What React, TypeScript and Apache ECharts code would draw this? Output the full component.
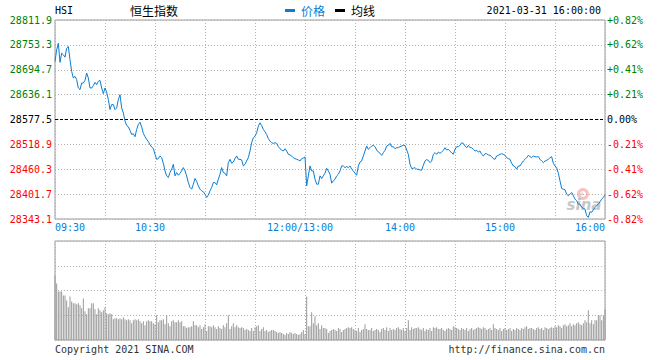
import React, { useEffect, useRef } from "react";
import * as echarts from "echarts";

const priceTicks = ["28343.1", "28401.7", "28460.3", "28518.9", "28577.5", "28636.1", "28694.7", "28753.3", "28811.9"];
const pctTicks = ["-0.82%", "-0.62%", "-0.41%", "-0.21%", "0.00%", "+0.21%", "+0.41%", "+0.62%", "+0.82%"];
const timeTickMinutes = [0, 60, 150, 210, 270, 330];
const timeTickLabels = ["09:30", "10:30", "12:00/13:00", "14:00", "15:00", "16:00"];
const prevClose = 28577.5;
const priceMin = 28343.1;
const priceMax = 28811.9;

// one value per minute: 0 = 09:30 ... 150 = 12:00 | 13:00 ... 330 = 16:00
const priceValues = [
  28714.2, 28741.6, 28757.2, 28711.9, 28733.8, 28729.9, 28724.4, 28745.5, 28749.4, 28718.1,
  28690.8, 28675.2, 28679.1, 28671.3, 28651.7, 28647.8, 28663.4, 28663.4, 28669.7, 28686.9,
  28675.2, 28651.7, 28651.7, 28657.2, 28665.0, 28659.5, 28667.4, 28669.7, 28651.7, 28638.4,
  28651.7, 28641.6, 28624.4, 28600.9, 28612.7, 28612.7, 28600.9, 28604.8, 28624.4, 28636.1,
  28604.8, 28593.1, 28573.6, 28563.4, 28560.3, 28551.7, 28542.3, 28543.9, 28536.9, 28554.1,
  28565.8, 28571.2, 28560.3, 28544.7, 28536.9, 28530.6, 28525.2, 28518.1, 28512.6, 28509.5,
  28495.5, 28483.7, 28485.3, 28491.6, 28487.7, 28474.4, 28456.4, 28444.7, 28440.8, 28452.5,
  28460.3, 28472.0, 28444.7, 28452.5, 28446.2, 28450.9, 28456.4, 28464.2, 28456.4, 28444.7,
  28429.0, 28417.3, 28413.4, 28425.1, 28438.4, 28431.4, 28421.2, 28413.4, 28409.5, 28407.2,
  28401.7, 28393.9, 28399.4, 28409.5, 28417.3, 28429.0, 28429.0, 28423.6, 28436.9, 28448.6,
  28464.2, 28452.5, 28450.9, 28444.7, 28475.9, 28483.7, 28474.4, 28477.5, 28485.3, 28491.6,
  28483.7, 28483.7, 28482.2, 28468.1, 28472.0, 28479.8, 28487.6, 28503.3, 28522.8, 28534.5,
  28538.4, 28546.2, 28561.9, 28569.7, 28563.4, 28554.1, 28548.6, 28542.3, 28532.2, 28526.7,
  28522.8, 28521.2, 28522.8, 28521.2, 28513.4, 28508.7, 28505.6, 28503.3, 28508.7, 28503.3,
  28495.5, 28493.9, 28491.6, 28487.6, 28485.3, 28483.7, 28482.2, 28479.8, 28485.3, 28486.9,
  28489.2, 28421.2, 28444.7, 28468.1, 28456.4, 28456.4, 28436.9, 28425.1, 28425.1, 28444.7,
  28438.4, 28444.7, 28450.9, 28462.6, 28456.4, 28448.6, 28427.5, 28433.0, 28436.9, 28444.7,
  28448.6, 28456.4, 28468.1, 28468.1, 28464.2, 28466.6, 28464.2, 28468.1, 28460.3, 28456.4,
  28450.9, 28446.2, 28468.1, 28477.5, 28479.8, 28491.6, 28503.3, 28515.0, 28507.2, 28511.1,
  28515.0, 28516.6, 28513.4, 28505.6, 28500.9, 28497.8, 28493.1, 28499.4, 28504.8, 28515.0,
  28516.6, 28521.2, 28513.4, 28513.4, 28508.7, 28511.1, 28511.1, 28513.4, 28515.0, 28516.6,
  28516.6, 28505.6, 28495.5, 28472.0, 28461.9, 28462.6, 28464.2, 28460.3, 28460.3, 28458.7,
  28458.0, 28469.7, 28479.8, 28483.0, 28481.4, 28475.9, 28479.8, 28495.5, 28499.4, 28495.5,
  28500.9, 28497.8, 28500.9, 28504.8, 28511.1, 28505.6, 28507.2, 28502.5, 28499.4, 28495.5,
  28507.2, 28513.4, 28513.4, 28516.6, 28522.8, 28521.2, 28515.0, 28511.1, 28516.6, 28511.1,
  28511.1, 28507.2, 28503.3, 28504.8, 28500.9, 28503.3, 28495.5, 28491.6, 28497.0, 28497.0,
  28493.9, 28493.1, 28490.0, 28485.3, 28483.7, 28491.6, 28493.1, 28495.5, 28497.0, 28495.5,
  28493.1, 28487.6, 28485.3, 28483.7, 28474.4, 28468.1, 28466.6, 28460.3, 28468.1, 28468.1,
  28474.4, 28479.8, 28483.7, 28487.6, 28493.1, 28490.0, 28487.6, 28491.6, 28490.0, 28489.2,
  28490.0, 28483.7, 28479.8, 28475.9, 28479.8, 28481.4, 28483.7, 28487.6, 28490.0, 28474.4,
  28468.1, 28464.2, 28450.9, 28432.9, 28415.0, 28413.4, 28411.9, 28401.7, 28397.8, 28401.7,
  28405.6, 28397.8, 28390.0, 28386.1, 28378.3, 28378.3, 28370.4, 28368.1, 28366.5, 28350.9,
  28347.0, 28360.3, 28358.7, 28365.0, 28370.4, 28374.4, 28378.3, 28383.7, 28390.0, 28393.9,
  28400.1,
];

// relative volume per minute (panel max = 100)
const volumeValues = [
  65, 57, 49, 49, 49, 45, 45, 40, 33, 44,
  39, 37, 37, 36, 37, 35, 32, 42, 29, 26,
  32, 32, 37, 37, 31, 26, 32, 30, 28, 30,
  33, 27, 26, 27, 26, 21, 22, 22, 21, 22,
  21, 23, 21, 20, 21, 20, 17, 20, 21, 20,
  21, 19, 17, 19, 15, 19, 20, 19, 19, 17,
  16, 25, 18, 20, 20, 21, 16, 25, 17, 14,
  19, 20, 18, 18, 20, 18, 19, 14, 14, 12,
  13, 13, 14, 19, 15, 15, 13, 15, 11, 13,
  16, 9, 14, 14, 13, 15, 13, 11, 14, 12,
  11, 15, 13, 17, 25, 11, 14, 17, 13, 15,
  13, 12, 13, 12, 10, 11, 10, 9, 12, 9,
  13, 14, 15, 9, 11, 13, 9, 10, 8, 9,
  10, 10, 9, 8, 7, 8, 7, 6, 5, 7,
  6, 8, 7, 6, 7, 6, 5, 6, 8, 10,
  6,
  44, 14, 14, 28, 17, 24, 15, 17, 11, 15,
  12, 12, 11, 7, 9,
  10, 11, 10, 9, 12, 11, 8, 10, 11, 12,
  13, 12, 13, 11, 10, 9, 12, 8, 10, 11,
  16, 11, 10, 10, 12, 9, 10, 11, 10, 8,
  11, 12, 10, 13, 9, 12, 10, 11, 10, 12,
  13, 11, 10, 12, 9, 12, 20, 10, 13, 11,
  12, 12, 13, 11, 10, 12, 9, 11, 10, 12,
  9, 13, 12, 13, 11, 11, 12, 10, 9, 11,
  12, 11, 10, 14, 13, 12, 11, 10, 12, 11,
  10, 12, 9, 11, 12, 10, 11, 12, 13, 12,
  11, 13, 12, 10, 11, 12, 10, 16, 12, 11,
  10, 12, 9, 11, 12, 10, 11, 12, 9, 11,
  10, 12, 11, 10, 12, 11, 13, 14, 11, 12,
  12, 11, 10, 12, 13, 11, 12, 10, 13, 12,
  11, 12, 13, 12, 14, 13, 15, 14, 12, 15,
  16, 14, 15, 17, 14, 16, 15, 17, 18, 16,
  15, 17, 20, 18, 30, 17, 20, 16, 20, 20,
  25, 25, 20, 25, 31,
];

const MONO = '"DejaVu Sans Mono", monospace';
const CJK = '"Noto Sans CJK SC", sans-serif';
const BLUE = "#0b7dd2";
const GRID_LINE = { color: "#b4b4b4", type: [1, 2] as number[], width: 1 };

function tickColor(v: number) {
  if (v > 4) return "#008000";
  if (v === 4) return "#000000";
  return "#ff0000";
}

export default function App() {
  const ref = useRef<HTMLDivElement>(null);
  useEffect(() => {
    if (!ref.current) return;
    const chart = echarts.init(ref.current, undefined, { renderer: "svg" });
    const timeLabel = (v: number) => {
      const i = timeTickMinutes.indexOf(v);
      if (i < 0) return "";
      const key = i === 0 ? "l" : i === timeTickMinutes.length - 1 ? "r" : "c";
      return `{${key}|${timeTickLabels[i]}}`;
    };
    const richBase = { fontFamily: MONO, fontSize: 10, color: BLUE };
    const option: any = {
      animation: false,
      backgroundColor: "#ffffff",
      grid: [
        { left: 55, top: 20, width: 550, height: 199, show: true, borderColor: "#999", borderWidth: 1 },
        { left: 55, top: 241, width: 550, height: 99, show: true, borderColor: "#999", borderWidth: 1 },
      ],
      xAxis: [
        {
          type: "value", gridIndex: 0, min: 0, max: 330, interval: 30,
          axisLine: { show: false }, axisTick: { show: false },
          splitLine: { show: true, lineStyle: GRID_LINE },
          axisLabel: {
            show: true, margin: 3, formatter: timeLabel, showMinLabel: true, showMaxLabel: true,
            hideOverlap: false,
            rich: {
              l: { ...richBase, padding: [0, 0, 0, 30] },
              r: { ...richBase, padding: [0, 30, 0, 0] },
              c: { ...richBase, padding: [0, 10, 0, 0] },
            },
          },
        },
        {
          type: "value", gridIndex: 1, min: 0, max: 330, interval: 30,
          axisLine: { show: false }, axisTick: { show: false }, axisLabel: { show: false },
          splitLine: { show: true, lineStyle: GRID_LINE },
        },
      ],
      yAxis: [
        {
          type: "value", gridIndex: 0, position: "left", min: 0, max: 8, interval: 1,
          axisLine: { show: false }, axisTick: { show: false },
          splitLine: { show: true, lineStyle: GRID_LINE },
          axisLabel: {
            margin: 3, fontFamily: MONO, fontSize: 10, padding: [0, 0, 5, 0],
            formatter: (v: number) => priceTicks[v] ?? "",
            color: (v: any) => tickColor(Number(v)),
          },
        },
        {
          type: "value", gridIndex: 0, position: "right", min: 0, max: 8, interval: 1,
          axisLine: { show: false }, axisTick: { show: false }, splitLine: { show: false },
          axisLabel: {
            margin: 2, fontFamily: MONO, fontSize: 10, padding: [0, 0, 5, 0],
            formatter: (v: number) => pctTicks[v] ?? "",
            color: (v: any) => tickColor(Number(v)),
          },
        },
        { type: "value", gridIndex: 0, show: false, min: priceMin, max: priceMax },
        {
          type: "value", gridIndex: 1, min: 0, max: 100, interval: 25,
          axisLine: { show: false }, axisTick: { show: false }, axisLabel: { show: false },
          splitLine: { show: true, lineStyle: GRID_LINE },
        },
      ],
      series: [
        {
          type: "line", xAxisIndex: 0, yAxisIndex: 2, showSymbol: false, symbol: "none",
          data: priceValues.map((v, i) => [i, v]),
          lineStyle: { color: BLUE, width: 1 },
          markLine: {
            silent: true, symbol: ["none", "none"], label: { show: false },
            lineStyle: { color: "#000", type: [3, 2], width: 1 },
            data: [{ yAxis: prevClose }],
          },
          z: 5,
        },
        {
          type: "bar", xAxisIndex: 1, yAxisIndex: 3, barWidth: 1,
          data: volumeValues.map((v, i) => [i, v]),
          itemStyle: { color: "#999999" },
        },
      ],
      graphic: [
        { type: "text", x: 55, y: 10, style: { text: "HSI", fill: "#000", font: `10px ${MONO}`, verticalAlign: "middle", textVerticalAlign: "middle" } },
        { type: "text", x: 130, y: 10, style: { text: "恒生指数", fill: "#000", font: `12px ${CJK}`, verticalAlign: "middle", textVerticalAlign: "middle" } },
        { type: "rect", shape: { x: 285, y: 9, width: 10, height: 3 }, style: { fill: BLUE } },
        { type: "text", x: 301, y: 10, style: { text: "价格", fill: BLUE, font: `12px ${CJK}`, verticalAlign: "middle", textVerticalAlign: "middle" } },
        { type: "rect", shape: { x: 335, y: 9, width: 10, height: 3 }, style: { fill: "#000" } },
        { type: "text", x: 351, y: 10, style: { text: "均线", fill: "#000", font: `12px ${CJK}`, verticalAlign: "middle", textVerticalAlign: "middle" } },
        { type: "text", x: 601, y: 10, style: { text: "2021-03-31 16:00:00", fill: "#000", font: `10px ${MONO}`, align: "right", textAlign: "right", verticalAlign: "middle", textVerticalAlign: "middle" } },
        { type: "text", x: 55, y: 349, style: { text: "Copyright 2021 SINA.COM", fill: "#333", font: `10px ${MONO}`, verticalAlign: "middle", textVerticalAlign: "middle" } },
        { type: "text", x: 605, y: 349, style: { text: "http://finance.sina.com.cn", fill: "#333", font: `10px ${MONO}`, align: "right", textAlign: "right", verticalAlign: "middle", textVerticalAlign: "middle" } },
        { type: "ring", shape: { cx: 583, cy: 194, r: 6, r0: 3 }, style: { fill: "rgba(235,120,120,0.45)" }, z: 1 },
        { type: "circle", shape: { cx: 582, cy: 194, r: 1.5 }, style: { fill: "rgba(200,200,200,0.7)" }, z: 1 },
        { type: "text", x: 584, y: 205, style: { text: "sina", fill: "rgba(150,150,150,0.55)", font: `italic bold 15px "DejaVu Sans", sans-serif`, align: "center", textAlign: "center", verticalAlign: "middle", textVerticalAlign: "middle" }, z: 1 },
      ],
    };
    chart.setOption(option);
    return () => chart.dispose();
  }, []);
  return <div ref={ref} style={{ position: "fixed", left: 0, top: 0, width: 660, height: 360 }} />;
}
